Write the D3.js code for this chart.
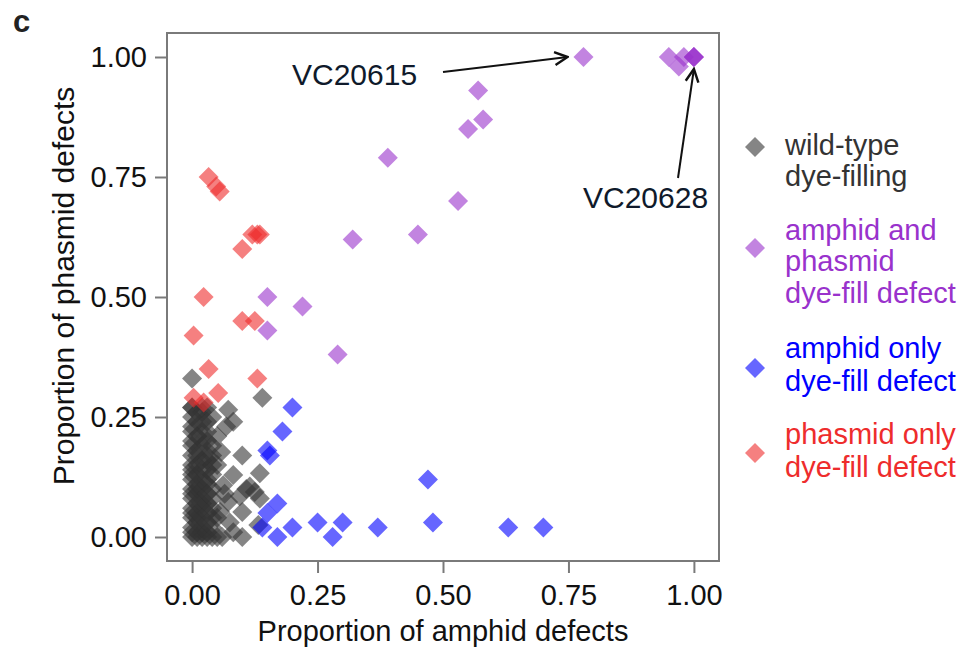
<!DOCTYPE html>
<html>
<head>
<meta charset="utf-8">
<script src="https://cdn.jsdelivr.net/npm/d3@7"></script>
<style>
  body { margin: 0; background: #fff; }
  svg text { font-family: "Liberation Sans", Arial, sans-serif; }
</style>
</head>
<body>
<svg id="chart" width="977" height="648"></svg>
<script>
// data: [amphid defect proportion, phasmid defect proportion]
const wildType = [
  [0.00, 0.00], [0.00, 0.01], [0.00, 0.02], [0.00, 0.04], [0.00, 0.05], [0.00, 0.06], [0.00, 0.08],
  [0.00, 0.09], [0.00, 0.10], [0.00, 0.12], [0.00, 0.13], [0.00, 0.14], [0.00, 0.15], [0.00, 0.17],
  [0.00, 0.19], [0.00, 0.20], [0.00, 0.22], [0.00, 0.23], [0.00, 0.25], [0.00, 0.27], [0.00, 0.27],
  [0.00, 0.33],
  [0.01, 0.00], [0.01, 0.01], [0.01, 0.03], [0.01, 0.04], [0.01, 0.05], [0.01, 0.07], [0.01, 0.09],
  [0.01, 0.10], [0.01, 0.11], [0.01, 0.13], [0.01, 0.15], [0.01, 0.17], [0.01, 0.18], [0.01, 0.21],
  [0.01, 0.24], [0.01, 0.26],
  [0.02, 0.00], [0.02, 0.01], [0.02, 0.02], [0.02, 0.04], [0.02, 0.06], [0.02, 0.07], [0.02, 0.08],
  [0.02, 0.10], [0.02, 0.12], [0.02, 0.14], [0.02, 0.16], [0.02, 0.19], [0.02, 0.20], [0.02, 0.22],
  [0.02, 0.24], [0.02, 0.26], [0.02, 0.27],
  [0.03, 0.00], [0.03, 0.01], [0.03, 0.03], [0.03, 0.05], [0.03, 0.07], [0.03, 0.09], [0.03, 0.11],
  [0.03, 0.12], [0.03, 0.14], [0.03, 0.16], [0.03, 0.17], [0.03, 0.20], [0.03, 0.22], [0.03, 0.24],
  [0.03, 0.27],
  [0.04, 0.00], [0.04, 0.02], [0.04, 0.04], [0.04, 0.06], [0.04, 0.08], [0.04, 0.10], [0.04, 0.13],
  [0.04, 0.15], [0.04, 0.17], [0.04, 0.19], [0.04, 0.25],
  [0.05, 0.00], [0.05, 0.04], [0.05, 0.15], [0.05, 0.21],
  [0.14, 0.29], [0.072, 0.265], [0.082, 0.24], [0.068, 0.23], [0.10, 0.17], [0.058, 0.177],
  [0.135, 0.133], [0.082, 0.129], [0.062, 0.108], [0.108, 0.10], [0.125, 0.094], [0.072, 0.073],
  [0.10, 0.052], [0.056, 0.052], [0.132, 0.025], [0.082, 0.01], [0.10, 0.00], [0.065, 0.09],
  [0.095, 0.085], [0.135, 0.08], [0.075, 0.03], [0.115, 0.105], [0.06, 0.00]
];
const bothDefect = [
  [0.78, 1.00], [0.95, 1.00], [0.97, 0.98], [0.98, 1.00], [1.00, 1.00], [1.00, 1.00], [1.00, 1.00],
  [0.57, 0.93], [0.58, 0.87], [0.55, 0.85], [0.39, 0.79], [0.53, 0.70], [0.45, 0.63], [0.32, 0.62],
  [0.15, 0.50], [0.22, 0.48], [0.15, 0.43], [0.29, 0.38]
];
const amphidOnly = [
  [0.20, 0.27], [0.18, 0.22], [0.15, 0.18], [0.155, 0.17], [0.17, 0.07], [0.15, 0.05], [0.14, 0.02],
  [0.17, 0.00], [0.20, 0.02], [0.25, 0.03], [0.28, 0.00], [0.30, 0.03], [0.37, 0.02], [0.47, 0.12],
  [0.48, 0.03], [0.63, 0.02], [0.70, 0.02]
];
const phasmidOnly = [
  [0.033, 0.75], [0.048, 0.73], [0.055, 0.72], [0.12, 0.63], [0.13, 0.63], [0.135, 0.63], [0.10, 0.60],
  [0.023, 0.50], [0.10, 0.45], [0.125, 0.45], [0.003, 0.42], [0.033, 0.35], [0.13, 0.33],
  [0.003, 0.29], [0.052, 0.30], [0.023, 0.28]
];
const tickValues = [0, 0.25, 0.5, 0.75, 1];
const groupNames = [
  ["wild-type", "dye-filling"],
  ["amphid and", "phasmid", "dye-fill defect"],
  ["amphid only", "dye-fill defect"],
  ["phasmid only", "dye-fill defect"]
];
const groupColors = ["#333333", "#9932cc", "#0000ff", "#ee2c2c"];
const groupText = ["#333333", "#9932cc", "#0000ff", "#ee2c2c"];

const svg = d3.select("#chart");
const plotLeft = 167, plotRight = 719, plotTop = 33, plotBottom = 561;

const x = d3.scaleLinear().domain([-0.05, 1.05]).range([plotLeft, plotRight]);
const y = d3.scaleLinear().domain([-0.05, 1.05]).range([plotBottom, plotTop]);

// frame
svg.append("rect")
  .attr("x", plotLeft).attr("y", plotTop)
  .attr("width", plotRight - plotLeft).attr("height", plotBottom - plotTop)
  .attr("fill", "none").attr("stroke", "#7a7a7a").attr("stroke-width", 2);

// axes
const xAxis = svg.append("g")
  .attr("transform", `translate(0,${plotBottom})`)
  .call(d3.axisBottom(x).tickValues(tickValues).tickFormat(d3.format(".2f")).tickSize(12).tickPadding(11));
const yAxis = svg.append("g")
  .attr("transform", `translate(${plotLeft},0)`)
  .call(d3.axisLeft(y).tickValues(tickValues).tickFormat(d3.format(".2f")).tickSize(12).tickPadding(8));
[xAxis, yAxis].forEach(a => {
  a.select(".domain").remove();
  a.selectAll(".tick line").attr("stroke", "#7a7a7a").attr("stroke-width", 2);
  a.selectAll(".tick text").style("font-size", "29px").attr("fill", "#111");
});

// axis titles
svg.append("text")
  .attr("x", 443).attr("y", 641)
  .attr("text-anchor", "middle")
  .style("font-size", "29px").attr("fill", "#111")
  .text("Proportion of amphid defects");
svg.append("text")
  .attr("transform", `translate(74,286) rotate(-90)`)
  .attr("text-anchor", "middle")
  .style("font-size", "30px").attr("fill", "#111")
  .text("Proportion of phasmid defects");

// panel letter
svg.append("text")
  .attr("x", 13).attr("y", 32)
  .style("font-size", "31px").style("font-weight", "bold").attr("fill", "#222")
  .text("c");

// points
const diamond = d3.symbol().type(d3.symbolSquare).size(200);
const groups = [wildType, bothDefect, amphidOnly, phasmidOnly];
groups.forEach((data, i) => {
  svg.append("g").selectAll("path")
    .data(data)
    .join("path")
    .attr("d", diamond)
    .attr("transform", d => `translate(${x(d[0])},${y(d[1])}) rotate(45)`)
    .attr("fill", groupColors[i])
    .attr("fill-opacity", 0.6);
});

// annotations
const defs = svg.append("defs");
defs.append("marker")
  .attr("id", "arrow")
  .attr("viewBox", "0 0 10 10")
  .attr("refX", 9).attr("refY", 5)
  .attr("markerWidth", 8).attr("markerHeight", 8)
  .attr("orient", "auto")
  .append("path")
  .attr("d", "M1,1 L9,5 L1,9")
  .attr("fill", "none").attr("stroke", "#111").attr("stroke-width", 1.5);

const annColor = "#0f1a2b";
svg.append("text")
  .attr("x", 292).attr("y", 85)
  .style("font-size", "30px").attr("fill", annColor)
  .text("VC20615");
svg.append("line")
  .attr("x1", 443).attr("y1", 72)
  .attr("x2", x(0.78) - 16).attr("y2", y(1.00))
  .attr("stroke", "#111").attr("stroke-width", 2)
  .attr("marker-end", "url(#arrow)");
svg.append("text")
  .attr("x", 583).attr("y", 208)
  .style("font-size", "30px").attr("fill", annColor)
  .text("VC20628");
svg.append("line")
  .attr("x1", 678).attr("y1", 178)
  .attr("x2", x(1.00)).attr("y2", y(1.00) + 12)
  .attr("stroke", "#111").attr("stroke-width", 2)
  .attr("marker-end", "url(#arrow)");

// legend
const legendDiamondY = [147, 248, 368, 453];
const legendLineY = [[155, 186], [240, 271, 303], [358, 391], [444, 477]];
const legendSymbol = d3.symbol().type(d3.symbolSquare).size(200);
groupNames.forEach((lines, i) => {
  svg.append("path")
    .attr("d", legendSymbol)
    .attr("transform", `translate(755,${legendDiamondY[i]}) rotate(45)`)
    .attr("fill", groupColors[i]).attr("fill-opacity", 0.6);
  lines.forEach((t, j) => {
    svg.append("text")
      .attr("x", 785).attr("y", legendLineY[i][j])
      .style("font-size", "29px").attr("fill", groupText[i])
      .text(t);
  });
});
</script>
</body>
</html>
